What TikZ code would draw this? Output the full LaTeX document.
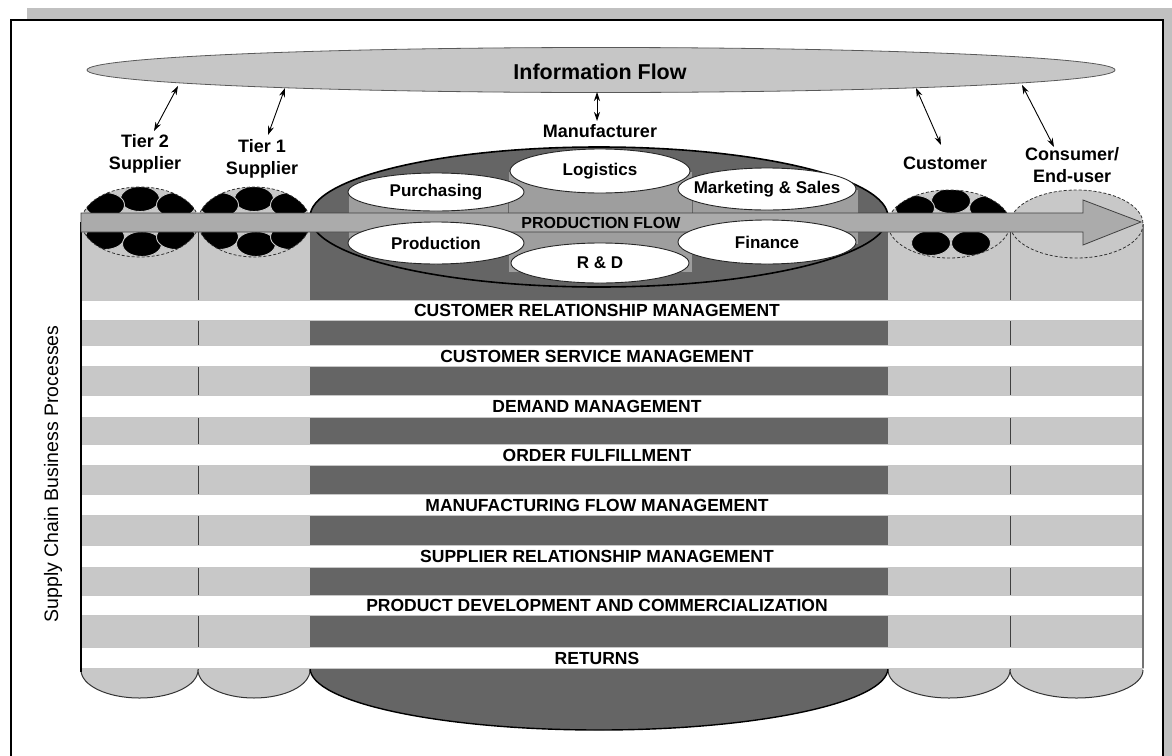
\documentclass[tikz,border=0pt]{standalone}
\usepackage{fontspec}
\setmainfont{Liberation Sans}
\usetikzlibrary{shapes.geometric,arrows.meta}
\definecolor{shadowgray}{HTML}{C0C0C0}
\definecolor{colgray}{HTML}{C8C8C8}
\definecolor{mfgdark}{HTML}{656565}
\definecolor{unitgray}{HTML}{9E9E9E}
\definecolor{flowgray}{HTML}{ABABAB}
\definecolor{infogray}{HTML}{C6C6C6}
\begin{document}
\begin{tikzpicture}[x=1pt,y=-1pt,
  every node/.style={inner sep=0pt},
  lbl/.style={font=\fontsize{18}{22}\selectfont\bfseries, align=center},
  proc/.style={font=\fontsize{17.5}{20}\selectfont\bfseries},
  unit/.style={ellipse, draw=black!85, fill=white, line width=0.9pt},
  unittext/.style={font=\fontsize{17}{20}\selectfont\bfseries},
  link/.style={{Stealth[length=9pt,width=6pt]}-{Stealth[length=9pt,width=6pt]}, line width=0.9pt},
  lane/.style={fill=white, draw=black!22, line width=0.6pt},
  rim/.style={draw=black!80, line width=0.8pt, densely dashed},
  blob/.style={fill=black, draw=colgray, line width=0.9pt},
  base/.style={draw=black!80, line width=1pt},
]
\useasboundingbox (0,0) rectangle (1172,755);

% sheet with its shadow
\fill[shadowgray] (27,8) rectangle (1172,760);
\draw[fill=white, line width=1.3pt] (11,20) rectangle (1163,770);

% information flow band
\node[ellipse, draw=black!65, fill=infogray, line width=0.8pt,
      minimum width=1028, minimum height=45] (info) at (601,70) {};
\node[font=\fontsize{21.5}{24}\selectfont\bfseries] (infotxt) at (600,72) {Information Flow};

% members of the chain
\node[lbl] (tier2) at (145,154) {Tier 2\\Supplier};
\node[lbl] (tier1) at (262,159) {Tier 1\\Supplier};
\node[lbl] (mfr) at (600,131) {Manufacturer};
\node[lbl] (cust) at (945,163) {Customer};
\node[lbl] (cons) at (1072,165) {Consumer/\\End-user};

% information links
\coordinate (i2) at (178,86);   \coordinate (s2) at (154,131);
\coordinate (i1) at (285,88);   \coordinate (s1) at (268,135);
\coordinate (im) at (597,92);   \coordinate (sm) at (597,121);
\coordinate (ic) at (916,88);   \coordinate (sc) at (941,145);
\coordinate (ie) at (1022,85);  \coordinate (se) at (1054,147);
\draw[link] (i2) -- (s2);
\draw[link] (i1) -- (s1);
\draw[link] (im) -- (sm);
\draw[link] (ic) -- (sc);
\draw[link] (ie) -- (se);

% cylinder bodies
\fill[colgray] (81,222) rectangle (310,670);
\fill[colgray] (888,224) rectangle (1143,670);
\fill[mfgdark] (310,217) rectangle (888,668);

% cylinder bottoms
\fill[colgray] (81,670) arc[start angle=180,end angle=0,x radius=58.5,y radius=28]
  arc[start angle=180,end angle=0,x radius=56,y radius=28] -- cycle;
\draw[base] (81,670) arc[start angle=180,end angle=0,x radius=58.5,y radius=28]
  arc[start angle=180,end angle=0,x radius=56,y radius=28];
\fill[colgray] (888,670) arc[start angle=180,end angle=0,x radius=61,y radius=28]
  arc[start angle=180,end angle=0,x radius=66.5,y radius=28] -- cycle;
\draw[base] (888,670) arc[start angle=180,end angle=0,x radius=61,y radius=28]
  arc[start angle=180,end angle=0,x radius=66.5,y radius=28];
\filldraw[fill=mfgdark, draw=black, line width=1.4pt] (310,668)
  arc[start angle=180,end angle=0,x radius=289,y radius=62];

% column dividers
\draw[black!75, line width=1pt] (198,222) -- (198,670);
\draw[black!75, line width=1pt] (1010,224) -- (1010,670);

% business process lanes
\foreach \t/\b/\nm/\txt in {
  300/320/crm/CUSTOMER RELATIONSHIP MANAGEMENT,
  345/366/csm/CUSTOMER SERVICE MANAGEMENT,
  395/417/dem/DEMAND MANAGEMENT,
  444/465/ord/ORDER FULFILLMENT,
  494/515/mfm/MANUFACTURING FLOW MANAGEMENT,
  545/567/srm/SUPPLIER RELATIONSHIP MANAGEMENT,
  595/615/pdc/PRODUCT DEVELOPMENT AND COMMERCIALIZATION,
  647/668/ret/RETURNS}{
  \draw[lane] (81,\t) rectangle (1143,\b);
  \node[proc] (\nm) at (597,{(\t+\b)/2+0.5}) {\txt};
}

% outer edges of the block
\draw[black, line width=1.1pt] (81,222) -- (81,672);
\draw[black!55, line width=2pt] (1143,224) -- (1143,668);

% supplier tops
\begin{scope}
  \clip (140,222) ellipse [x radius=58.5, y radius=35];
  \fill[colgray] (140,222) ellipse [x radius=58.5, y radius=35];
  \foreach \dx/\dy in {0/-23,-35/-17,36/-17,-35/15,2/22,36/15}
    \filldraw[blob] (140+\dx,222+\dy) ellipse [x radius=19.5, y radius=12.5];
\end{scope}
\draw[rim] (140,222) ellipse [x radius=58.5, y radius=35];
\begin{scope}
  \clip (254,222) ellipse [x radius=56, y radius=35];
  \fill[colgray] (254,222) ellipse [x radius=56, y radius=35];
  \foreach \dx/\dy in {0/-23,-35/-17,36/-17,-35/15,2/22,36/15}
    \filldraw[blob] (254+\dx,222+\dy) ellipse [x radius=19.5, y radius=12.5];
\end{scope}
\draw[rim] (254,222) ellipse [x radius=56, y radius=35];

% customer top
\begin{scope}
  \clip (949,224) ellipse [x radius=61, y radius=34];
  \fill[colgray] (949,224) ellipse [x radius=61, y radius=34];
  \foreach \dx/\dy in {2/-23,-34/-16,40/-16,-18/19,22/19}
    \filldraw[blob] (949+\dx,224+\dy) ellipse [x radius=19.5, y radius=12.5];
\end{scope}
\draw[rim] (949,224) ellipse [x radius=61, y radius=34];

% consumer top
\filldraw[fill=colgray, rim] (1076.5,224) ellipse [x radius=66.5, y radius=34];

% manufacturer top with its functional units
\filldraw[fill=mfgdark, draw=black, line width=1.6pt] (599,217) ellipse [x radius=289, y radius=70];
\begin{scope}
  \clip (599,217) ellipse [x radius=288, y radius=69];
  \filldraw[fill=unitgray, draw=black!60, line width=0.6pt] (348,192) rectangle (526,246);
  \filldraw[fill=unitgray, draw=black!60, line width=0.6pt] (678,189) rectangle (858,244);
  \filldraw[fill=unitgray, draw=black!60, line width=0.6pt] (508,171) rectangle (692,272);
\end{scope}
\node[unit, minimum width=176, minimum height=38,
      label={[unittext]center:Purchasing}] (purch) at (436,192) {};
\node[unit, minimum width=180, minimum height=44,
      label={[unittext]center:Logistics}] (logi) at (600,171) {};
\node[unit, minimum width=178, minimum height=42,
      label={[unittext]center:Marketing \& Sales}] (mkt) at (767,189) {};

% production flow arrow
\filldraw[fill=flowgray, draw=black!75, line width=0.8pt]
  (81,213) -- (1083,213) -- (1083,200) -- (1141,222) -- (1083,245) -- (1083,232) -- (81,232) -- cycle;
\node[font=\fontsize{16}{18}\selectfont\bfseries] (pflow) at (601,223) {PRODUCTION FLOW};

\node[unit, minimum width=176, minimum height=42,
      label={[unittext]center:Production}] (prod) at (436,243) {};
\node[unit, minimum width=178, minimum height=40,
      label={[unittext]center:R \& D}] (rnd) at (600,263) {};
\node[unit, minimum width=178, minimum height=44,
      label={[unittext]center:Finance}] (fin) at (767,242) {};

% side caption
\node[rotate=90, font=\fontsize{19.5}{22}\selectfont] (scbp) at (53,474) {Supply Chain Business Processes};
\end{tikzpicture}
\end{document}
